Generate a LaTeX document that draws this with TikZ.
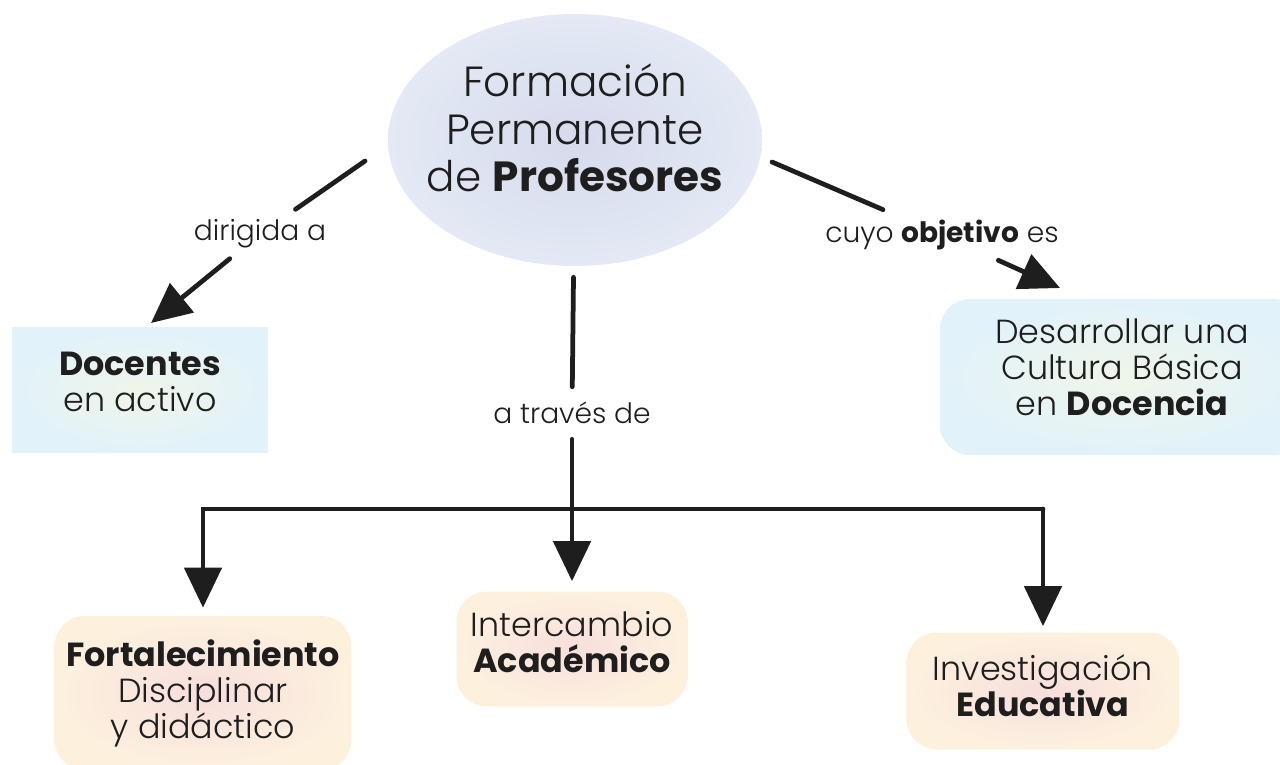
\documentclass[tikz,border=0pt]{standalone}
\usepackage{fontspec}
\setmainfont{Poppins}[UprightFont={Poppins Light},BoldFont={Poppins Bold}]
\usetikzlibrary{arrows.meta,shapes.geometric}
\definecolor{ink}{HTML}{1E1E1E}
\definecolor{lilain}{HTML}{D6DAEC}
\definecolor{lilaout}{HTML}{E4E9F5}
\definecolor{verdein}{HTML}{EFF6E9}
\definecolor{azulout}{HTML}{E2F2FA}
\definecolor{rosain}{HTML}{F7DEDC}
\definecolor{cremaout}{HTML}{FDF1DE}

\begin{document}
\begin{tikzpicture}[x=0.02cm,y=-0.02cm,
		elip/.style={ellipse,minimum width=7.48cm,minimum height=5.04cm,inner xsep=-1cm,inner ysep=-0.4cm,
			inner color=lilain,outer color=lilaout,align=center,text=ink,
			font=\fontsize{24pt}{27pt}\selectfont},
		caja/.style={align=center,text=ink,inner sep=0pt,font=\fontsize{19pt}{20.5pt}\selectfont},
		azul/.style={caja,inner color=verdein,outer color=azulout},
		crema/.style={caja,rounded corners=0.6cm,inner color=rosain,outer color=cremaout},
		etiq/.style={text=ink,inner sep=0.2cm,font=\fontsize{16pt}{17pt}\selectfont},
		conn/.style={draw=ink,line width=0.095cm,line cap=round},
		arr/.style={conn,-{Triangle[length=0.8cm,width=0.74cm]}}]
		\clip (0,0) rectangle (1280,764);
		%% nodos
		\node[elip] (fpp) at (575,140) {Formación\\Permanente\\de \textbf{Profesores}\rule[-0.48cm]{0pt}{0pt}};
		\node[azul,minimum width=5.12cm,minimum height=2.52cm] (doc) at (140,390)
			{\textbf{Docentes}\\en activo\rule[-0.32cm]{0pt}{0pt}};
		\node[azul,rounded corners=0.6cm,minimum width=7.28cm,minimum height=3.12cm] (des) at (1122,377)
			{Desarrollar una\\Cultura Básica\\en \textbf{Docencia}\rule[-0.38cm]{0pt}{0pt}};
		\node[crema,minimum width=5.94cm,minimum height=3.08cm] (fort) at (203,693)
			{\textbf{Fortalecimiento}\\Disciplinar\\y didáctico};
		\node[crema,minimum width=4.62cm,minimum height=2.3cm] (inter) at (572,649)
			{Intercambio\\\textbf{Académico}\rule[-0.3cm]{0pt}{0pt}};
		\node[crema,minimum width=5.46cm,minimum height=2.34cm] (inv) at (1043,691)
			{Investigación\\\textbf{Educativa}\rule[-0.22cm]{0pt}{0pt}};
		%% etiquetas
		\node[etiq] (dir) at (260,234) {dirigida a};
		\node[etiq] (obj) at (942,235) {cuyo \textbf{objetivo} es};
		\node[etiq,inner ysep=0.3cm] (atr) at (572,413) {a través de};
		%% extremos
		\coordinate (d1) at (365,161);
		\coordinate (d2) at (151,323);
		\coordinate (c1) at (772,162);
		\coordinate (c2) at (1060,288);
		\coordinate (hl) at (203,509);
		\coordinate (hr) at (1043,509);
		%% conectores
		\draw[conn] (d1) -- (dir);
		\draw[arr] (dir) -- (d2);
		\draw[conn] (c1) -- (obj);
		\draw[arr] (obj) -- (c2);
		\draw[conn,shorten <=0.22cm] (fpp) -- (atr);
		\draw[arr,shorten >=0.2cm] (atr) -- (inter);
		\draw[arr,shorten >=0.16cm] (hr) -- (hl) -- (fort);
		\draw[arr,shorten >=0.12cm] (hr) -- (inv);
	\end{tikzpicture}
\end{document}
